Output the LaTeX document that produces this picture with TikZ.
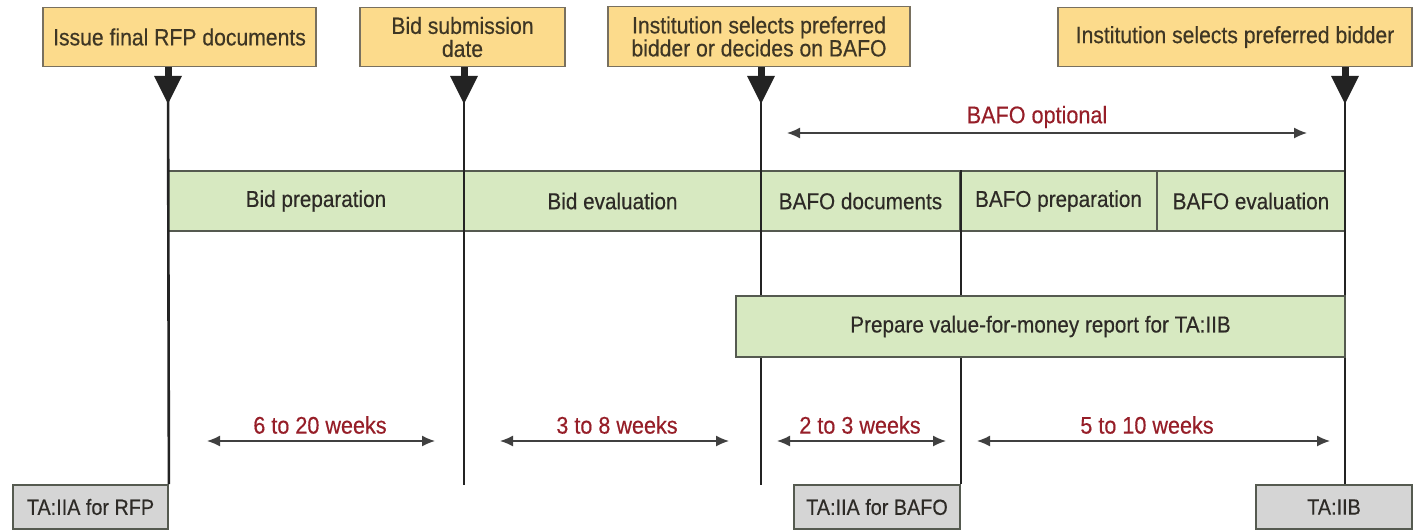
\documentclass[tikz,border=0pt]{standalone}
\usepackage{fontspec}
\setmainfont{Liberation Sans}[FakeStretch=0.9, FakeBold=0.4]
\usetikzlibrary{arrows.meta,calc}
\definecolor{ybox}{RGB}{252,219,140}
\definecolor{yedge}{RGB}{120,112,95}
\definecolor{gbox}{RGB}{215,233,193}
\definecolor{gedge}{RGB}{85,90,80}
\definecolor{tbox}{RGB}{213,213,213}
\definecolor{redtxt}{RGB}{150,30,40}
\definecolor{txt}{RGB}{45,42,38}
\definecolor{ytxt}{RGB}{62,54,36}
\definecolor{vl}{RGB}{35,35,35}
\tikzset{
 downtip/.pic={\fill[vl] (-14,0) -- (14,0) -- (0,28) -- cycle;},
 lbl/.style={font=\fontsize{23}{23}\selectfont, text=txt},
 ybx/.style={draw=yedge, line width=1.8pt, fill=ybox, inner sep=0pt, align=center, lbl, font=\fontsize{23.5}{23}\selectfont, text=ytxt},
 gbx/.style={draw=gedge, line width=1.8pt, fill=gbox, inner sep=0pt, lbl},
 tbx/.style={draw=gedge, line width=1.8pt, fill=tbox, inner sep=0pt, lbl, font=\fontsize{22}{23}\selectfont},
 vline/.style={draw=vl, line width=2.6pt},
 stem/.style={draw=vl, line width=7pt},
 span/.style={draw=black!75, line width=1.4pt, {Latex[length=13pt,width=11pt]}-{Latex[length=13pt,width=11pt]}},
 wk/.style={font=\fontsize{24}{24}\selectfont, text=redtxt, inner sep=0pt}
}
\begin{document}
\begin{tikzpicture}[x=1pt,y=-1pt]
\useasboundingbox (0,0) rectangle (1418,531);
% yellow milestone boxes
\node[ybx, minimum width=273pt, minimum height=59pt] (y1) at (179.5,37) {Issue final RFP documents};
\node[ybx, minimum width=205pt, minimum height=59pt] (y2) at (462.5,37) {Bid submission\\date};
\node[ybx, minimum width=302pt, minimum height=60pt] (y3) at (759,36.5) {Institution selects preferred\\bidder or decides on BAFO};
\node[ybx, minimum width=354pt, minimum height=59pt] (y4) at (1235,37) {Institution selects preferred bidder};
% TA boxes
\node[tbx, minimum width=155pt, minimum height=44pt] (t1) at (90.5,507) {TA:IIA for RFP};
\node[tbx, minimum width=166pt, minimum height=44pt] (t2) at (877,507) {TA:IIA for BAFO};
\node[tbx, minimum width=156pt, minimum height=44pt] (t3) at (1334,507) {TA:IIB};
% top bar
\node[gbx, minimum width=296pt, minimum height=60pt] (s1) at (316,201) {Bid preparation};
\node[gbx, minimum width=297pt, minimum height=60pt] (s2) at (612.5,201) {Bid evaluation};
\node[gbx, minimum width=199pt, minimum height=60pt] (s3) at (860.5,201) {BAFO documents};
\node[gbx, minimum width=197pt, minimum height=60pt] (s4) at (1058.5,201) {BAFO preparation};
\node[gbx, minimum width=188pt, minimum height=60pt] (s5) at (1251,201) {BAFO evaluation};
% line positions
\coordinate (L1) at (168,0);
\coordinate (L2) at (464,0);
\coordinate (L3) at (761,0);
\coordinate (L4) at (1345,0);
\coordinate (e2) at (464,485);
\coordinate (e3) at (761,485);
% vertical lines
\draw[vline] (y1.south -| L1) -- (t1.north east);
\draw[vline] (y2.south -| L2) -- (e2);
\draw[vline] (y3.south -| L3) -- (e3);
\draw[vline] (y4.south -| L4) -- (t3.north -| L4);
\draw[vline] (s3.north east) -- (t2.north east);
% arrow stems and heads
\foreach \b/\l in {y1/L1,y2/L2,y3/L3,y4/L4}{
  \draw[stem] (\b.south -| \l) -- ++(0,10);
  \pic at ($(\b.south -| \l)+(0,8.5)$) {downtip};
}
% value-for-money bar
\node[gbx, minimum width=609pt, minimum height=61pt] (vfm) at (1040.5,326.5) {Prepare value-for-money report for TA:IIB};
% BAFO optional
\coordinate (bo1) at (787,133);
\coordinate (bo2) at (1307,133);
\draw[span] (bo1) -- (bo2);
\node[wk] (bol) at (1037,117) {BAFO optional};
% durations
\coordinate (a1l) at (207,441); \coordinate (a1r) at (435,441);
\coordinate (a2l) at (500,441); \coordinate (a2r) at (729,441);
\coordinate (a3l) at (777,441); \coordinate (a3r) at (946,441);
\coordinate (a4l) at (977,441); \coordinate (a4r) at (1330,441);
\draw[span] (a1l) -- (a1r);
\draw[span] (a2l) -- (a2r);
\draw[span] (a3l) -- (a3r);
\draw[span] (a4l) -- (a4r);
\node[wk] (w1) at (320,425) {6 to 20 weeks};
\node[wk] (w2) at (617,425) {3 to 8 weeks};
\node[wk] (w3) at (860,425) {2 to 3 weeks};
\node[wk] (w4) at (1147,425) {5 to 10 weeks};
\end{tikzpicture}
\end{document}
